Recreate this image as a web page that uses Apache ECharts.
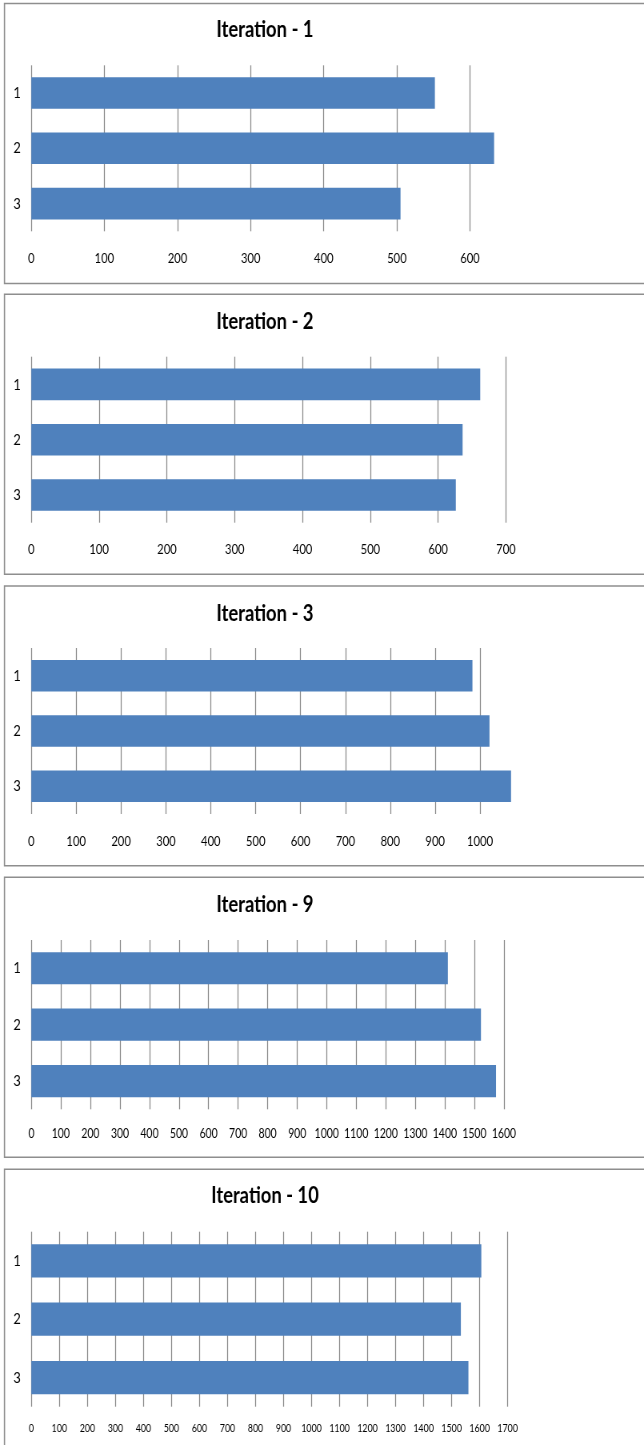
<!DOCTYPE html>
<html>
<head>
<meta charset="utf-8">
<script src="https://cdn.jsdelivr.net/npm/echarts@6/dist/echarts.min.js"></script>
<style>
  html, body { margin: 0; padding: 0; background: #fff; overflow: hidden; }
  #wrap { width: 644px; height: 1445px; overflow: hidden; position: relative; }
  /* the chart is laid out wide and squeezed horizontally to give the narrow lettering */
  #chart { width: 805px; height: 1445px; transform: scaleX(0.8); transform-origin: 0 0; }
</style>
</head>
<body>
<div id="wrap"><div id="chart"></div></div>
<script>
// ---- data ----
const categories = ['1', '2', '3'];
const panelTitles = ['Iteration - 1', 'Iteration - 2', 'Iteration - 3', 'Iteration - 9', 'Iteration - 10'];
const iteration1 = [552, 633, 505];
const iteration2 = [662, 636, 626];
const iteration3 = [983, 1021, 1069];
const iteration9 = [1410, 1522, 1573];
const iteration10 = [1606, 1533, 1560];
const seriesValues = [iteration1, iteration2, iteration3, iteration9, iteration10];
const axisMax = [650, 700, 1075, 1600, 1700];
const tickStep = 100;

// ---- layout (page pixels before the horizontal squeeze is undone) ----
const SQUEEZE = 0.8;
const sx = v => v / SQUEEZE;
const plotLeft = 31.33;
const panels = [
  { frameTop: 3.5,    frameH: 280, titleY: 30,    gridTop: 65.3,   gridH: 166,   plotW: 475.2,  labelSize: 14, labelGap: 19.7, maxLine: false },
  { frameTop: 294.3,  frameH: 280, titleY: 321.7, gridTop: 356.7,  gridH: 166,   plotW: 474.67, labelSize: 14, labelGap: 19.3, maxLine: true },
  { frameTop: 586,    frameH: 279.7, titleY: 613.3, gridTop: 648,  gridH: 166,   plotW: 482.4,  labelSize: 14, labelGap: 20,   maxLine: false },
  { frameTop: 877.3,  frameH: 280, titleY: 904.3, gridTop: 940,    gridH: 169.3, plotW: 472.67, labelSize: 13, labelGap: 18.2, maxLine: true },
  { frameTop: 1169.3, frameH: 320, titleY: 1196,  gridTop: 1231.7, gridH: 175,   plotW: 476.33, labelSize: 11, labelGap: 16.1, maxLine: true }
];

const FONT = 'Lato, "Open Sans", sans-serif';
const BAR_COLOR = '#4f81bd';
const GRID_COLOR = '#8a8a8a';

const option = {
  animation: false,
  backgroundColor: '#ffffff',
  title: [], grid: [], xAxis: [], yAxis: [], series: [], graphic: []
};

panels.forEach((p, i) => {
  option.graphic.push({
    type: 'rect', silent: true, z: -10,
    shape: { x: sx(4.5), y: p.frameTop, width: 900, height: p.frameH },
    style: { fill: 'none', stroke: '#8e8e8e', lineWidth: 1.6 }
  });
  option.title.push({
    text: panelTitles[i],
    left: sx(265), top: p.titleY,
    textAlign: 'center', textVerticalAlign: 'middle',
    padding: 0,
    textStyle: { fontFamily: FONT, fontWeight: 'bold', fontSize: 23, color: '#000' }
  });
  option.grid.push({
    left: sx(plotLeft), top: p.gridTop, width: sx(p.plotW), height: p.gridH,
    containLabel: false, outerBoundsMode: 'none'
  });
  option.xAxis.push({
    type: 'value', gridIndex: i,
    min: 0, max: axisMax[i], interval: tickStep,
    axisLine: { show: false }, axisTick: { show: false },
    splitLine: { show: true, showMinLine: true, showMaxLine: p.maxLine,
                 lineStyle: { color: GRID_COLOR, width: 1.25 } },
    axisLabel: {
      show: true, margin: p.labelGap, fontFamily: FONT, fontSize: p.labelSize,
      lineHeight: p.labelSize, color: '#000', hideOverlap: false,
      showMaxLabel: p.maxLine,
      formatter: v => (v % tickStep === 0 ? String(v) : '')
    }
  });
  option.yAxis.push({
    type: 'category', gridIndex: i, data: categories, inverse: true,
    axisLine: { show: false }, axisTick: { show: false }, splitLine: { show: false },
    axisLabel: { margin: sx(10.6), fontFamily: FONT, fontSize: 16, color: '#000' }
  });
  option.series.push({
    type: 'bar', xAxisIndex: i, yAxisIndex: i,
    data: seriesValues[i],
    barCategoryGap: '43%',
    itemStyle: { color: BAR_COLOR },
    silent: true
  });
});

const chart = echarts.init(document.getElementById('chart'), null, { renderer: 'canvas' });
chart.setOption(option);
</script>
</body>
</html>
